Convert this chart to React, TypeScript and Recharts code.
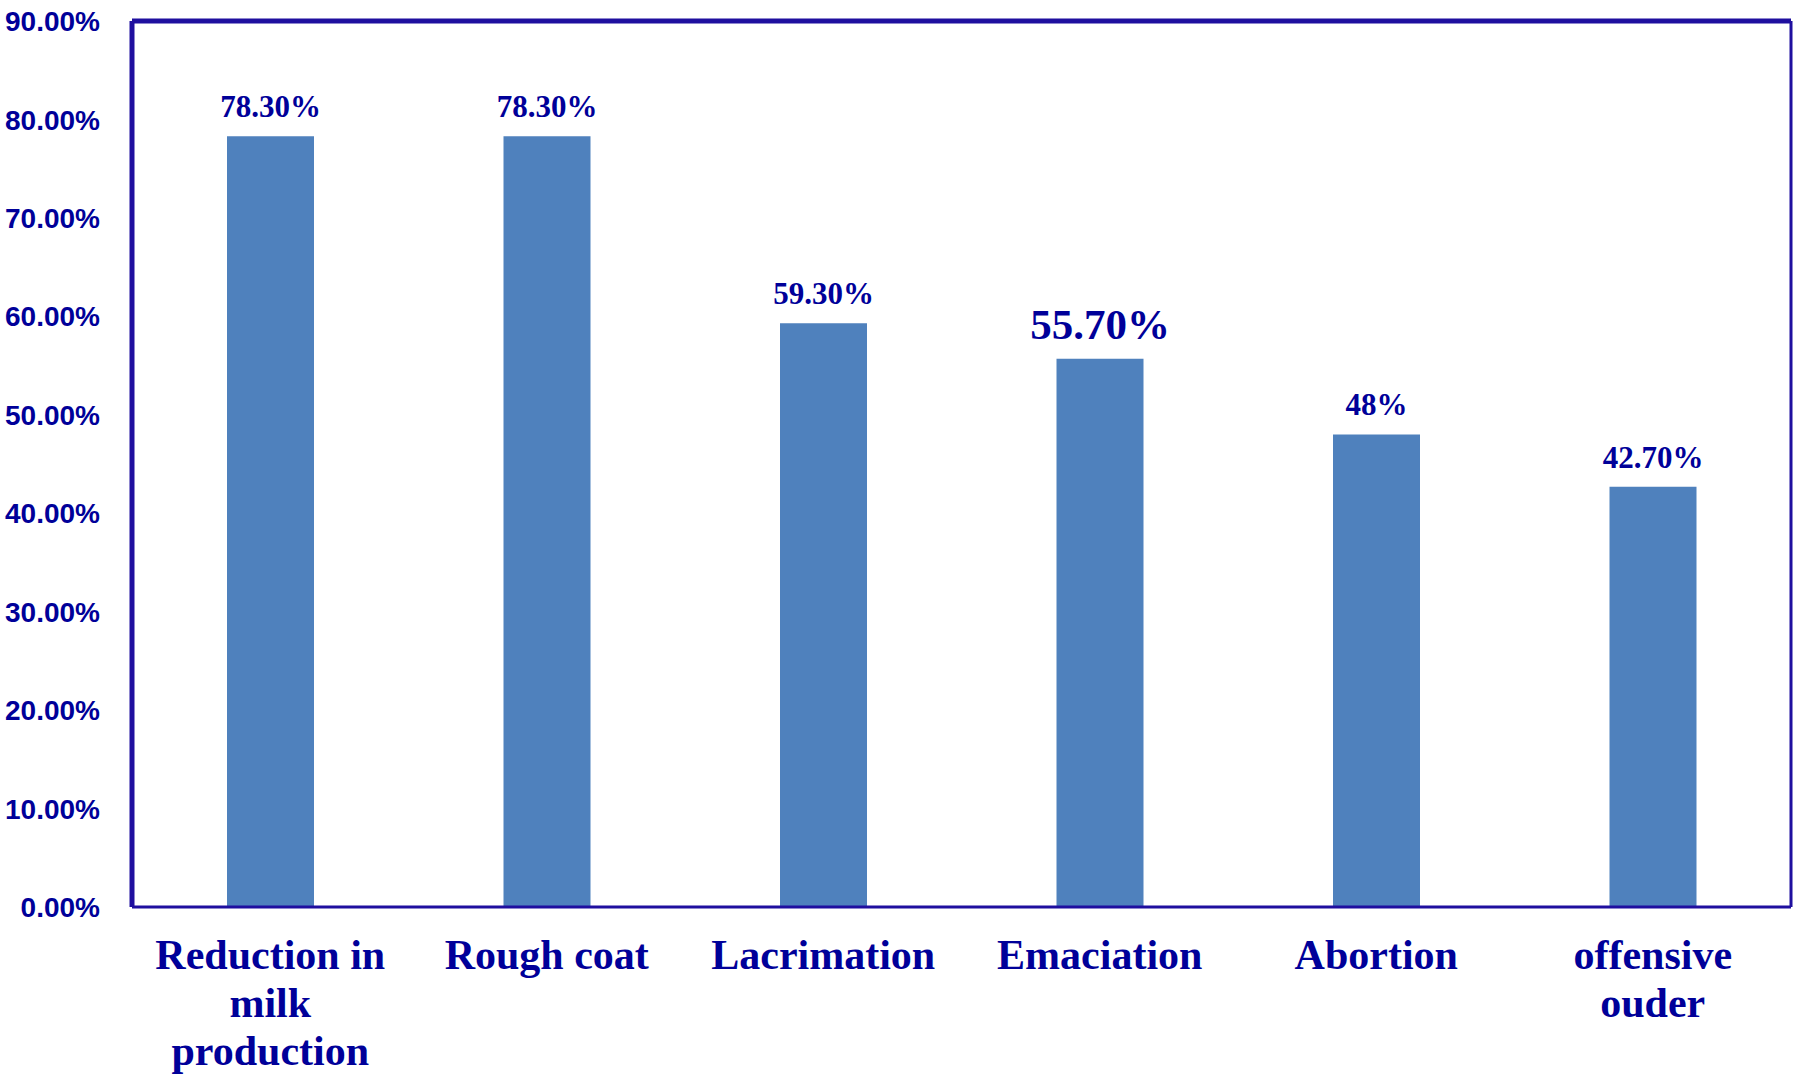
import React from "react";
import { BarChart, Bar, XAxis, YAxis, LabelList, ReferenceLine } from "recharts";

const categories = [
  "Reduction in milk production",
  "Rough coat",
  "Lacrimation",
  "Emaciation",
  "Abortion",
  "offensive ouder",
];
const values = [78.3, 78.3, 59.3, 55.7, 48, 42.7];
const valueLabels = ["78.30%", "78.30%", "59.30%", "55.70%", "48%", "42.70%"];
const yTicks = [0, 10, 20, 30, 40, 50, 60, 70, 80, 90];
const yTickLabels = ["0.00%", "10.00%", "20.00%", "30.00%", "40.00%", "50.00%", "60.00%", "70.00%", "80.00%", "90.00%"];

const data = categories.map((c, i) => ({ name: c, value: values[i], label: valueLabels[i] }));

const TEXT = "#000099";
const BORDER = "#1F0F9F";
const BAR = "#4F81BD";
const SERIF = "'Liberation Serif', 'Times New Roman', serif";
const SANS = "'Liberation Sans', Arial, sans-serif";

function wrap(s: string, max: number): string[] {
  const words = s.split(" ");
  const lines: string[] = [];
  let cur = "";
  for (const w of words) {
    const t = cur ? cur + " " + w : w;
    if (t.length > max && cur) {
      lines.push(cur);
      cur = w;
    } else cur = t;
  }
  if (cur) lines.push(cur);
  return lines;
}

const XTick = (props: any) => {
  const { x, y, payload } = props;
  const lines = wrap(String(payload.value), 12);
  return (
    <text x={x} y={y} textAnchor="middle" fill={TEXT} fontFamily={SERIF} fontWeight="bold" fontSize={42}>
      {lines.map((l, i) => (
        <tspan key={i} x={x} y={y + 54 + i * 48}>
          {l}
        </tspan>
      ))}
    </text>
  );
};

const YTick = (props: any) => {
  const { x, y, payload } = props;
  const idx = yTicks.indexOf(payload.value);
  return (
    <text x={x} y={y} dy="0.36em" textAnchor="end" fill={TEXT} fontFamily={SANS} fontWeight="bold" fontSize={28}>
      {yTickLabels[idx]}
    </text>
  );
};

const BIG_INDEX = 3;

const ValueLabel = (props: any) => {
  const { x, y, width, index, value } = props;
  const big = index === BIG_INDEX;
  return (
    <text
      x={x + width / 2}
      y={y - (big ? 20 : 19)}
      textAnchor="middle"
      fill={TEXT}
      fontFamily={SERIF}
      fontWeight="bold"
      fontSize={big ? 43 : 31}
    >
      {value}
    </text>
  );
};

export default function App() {
  return (
    <div style={{ position: "absolute", left: 0, top: 0, width: 1794, height: 1077, background: "#fff" }}>
      <BarChart width={1794} height={1077} data={data} margin={{ top: 21, right: 2, left: 0, bottom: 0 }}>
        <XAxis
          dataKey="name"
          height={170}
          tick={<XTick />}
          tickLine={false}
          interval={0}
          axisLine={{ stroke: BORDER, strokeWidth: 3 }}
        />
        <YAxis
          domain={[0, 90]}
          ticks={yTicks}
          width={132}
          tick={<YTick />}
          tickLine={false}
          tickSize={0}
          tickMargin={32}
          axisLine={{ stroke: BORDER, strokeWidth: 5 }}
        />
        <YAxis
          yAxisId="right"
          orientation="right"
          domain={[0, 90]}
          width={1}
          tick={false}
          tickLine={false}
          axisLine={{ stroke: BORDER, strokeWidth: 3 }}
        />
        <ReferenceLine y={90} stroke={BORDER} strokeWidth={5} />
        <Bar dataKey="value" fill={BAR} barSize={87} isAnimationActive={false}>
          <LabelList dataKey="label" content={<ValueLabel />} />
        </Bar>
      </BarChart>
    </div>
  );
}
